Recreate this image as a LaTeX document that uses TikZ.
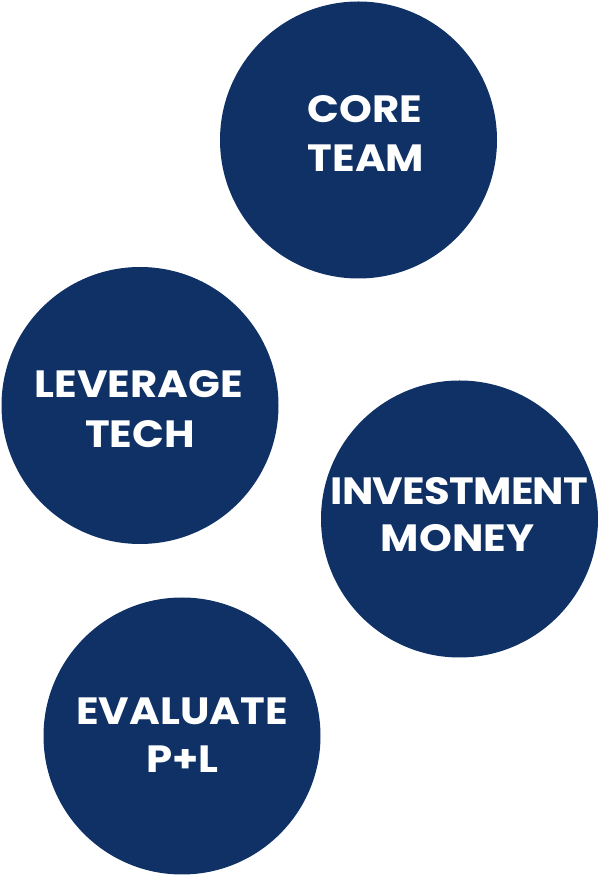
\documentclass[tikz,border=0pt]{standalone}
\usepackage{fontspec}
\newfontfamily\capfont{Poppins}[FakeStretch=1.1]
\definecolor{navy}{HTML}{0F3166}
\begin{document}
\begin{tikzpicture}[x=1pt,y=1pt,
  disc/.style={circle,fill=navy,draw=none,minimum size=277pt,inner sep=0pt},
  caption/.style={text=white,font=\capfont\fontsize{38}{38}\selectfont\bfseries,inner sep=0pt,anchor=base}]
  \useasboundingbox (0,0) rectangle (598,876);
  % the four discs
  \node[disc] (core)   at (358.5,736) {};
  \node[disc] (lever)  at (140,470.5) {};
  \node[disc] (invest) at (459.5,357) {};
  \node[disc] (eval)   at (182,140) {};
  % captions, one node per line
  \node[caption] (core1)   at (365,753) {CORE};
  \node[caption] (core2)   at (366,704) {TEAM};
  \node[caption] (lever1)  at (139,478) {LEVERAGE};
  \node[caption] (lever2)  at (140,428) {TECH};
  \node[caption] (invest1) at (459.5,371) {\addfontfeature{LetterSpace=-2}INVESTMENT};
  \node[caption] (invest2) at (457.5,324) {MONEY};
  \node[caption] (eval1)   at (182,151) {EVALUATE};
  \node[caption] (eval2)   at (182.5,103) {P+L};
\end{tikzpicture}
\end{document}
